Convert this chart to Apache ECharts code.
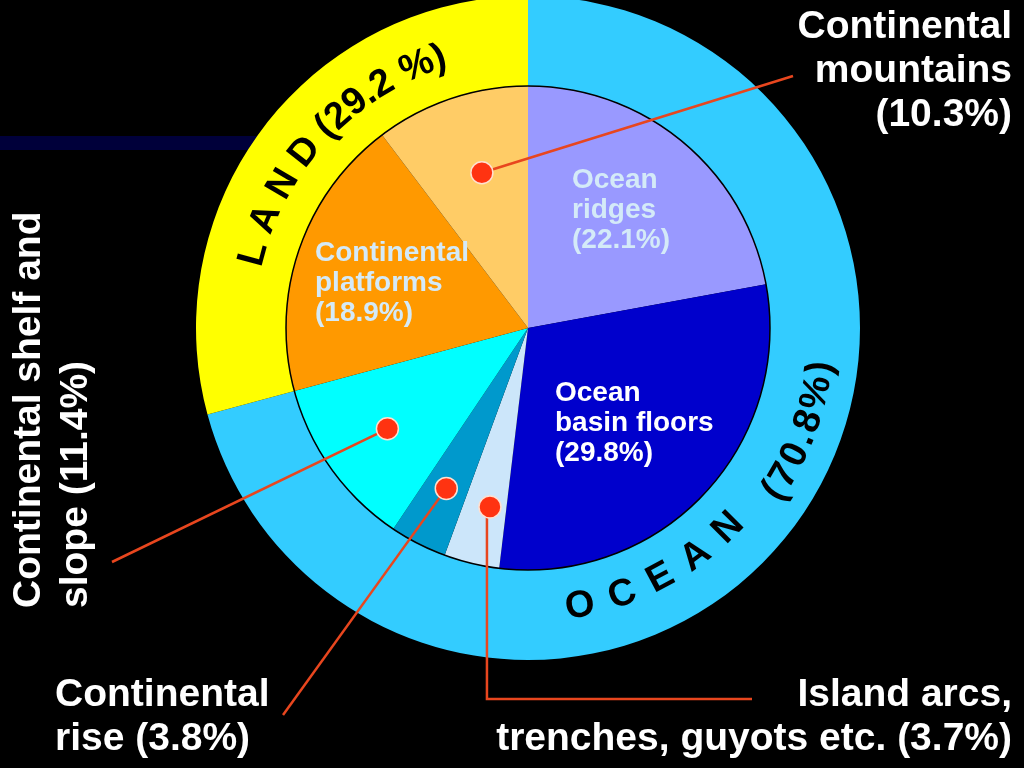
<!DOCTYPE html>
<html><head><meta charset="utf-8">
<style>html,body{margin:0;padding:0;background:#000;}#chart{width:1024px;height:768px;}</style>
<script src="https://cdn.jsdelivr.net/npm/echarts@6/dist/echarts.min.js"></script>
</head><body><div id="chart"></div>
<script>
// ---------- DATA ----------
const categories = ['Ocean\nridges', 'Ocean\nbasin floors', 'Island arcs,\ntrenches, guyots etc.', 'Continental\nrise', 'Continental shelf and\nslope', 'Continental\nplatforms', 'Continental\nmountains'];
const values = [22.1, 29.8, 3.7, 3.8, 11.4, 18.9, 10.3];
const ringCategories = ['OCEAN', 'LAND'];
const ringValues = [70.8, 29.2];

// ---------- STYLE / LAYOUT ----------
const FONT = '"Liberation Sans", Arial, Helvetica, sans-serif';
const CX = 528, CY = 328, R_IN = 242, R_OUT = 332;
const sliceColors = ['#9999FF', '#0000CC', '#CCE6FA', '#0099CC', '#00FFFF', '#FF9900', '#FFCC66'];
const ringColors = ['#33CCFF', '#FFFF00'];
const LINE_COLOR = '#E8461E';

const innerLabels = {
  0: { x: 572, y: 165, color: '#D4EAF8', sep: '\n' },
  1: { x: 555, y: 378, color: '#FFFFFF', sep: '\n' },
  5: { x: 315, y: 238, color: '#D4EAF8', sep: '\n' }
};
const outerLabels = {
  6: { x: 1012, y: 5, align: 'right', sep: '\n', end: [793, 76], dotR: 162, dA: -2 },
  4: { x: 6, y: 608, align: 'left', sep: ' ', rot: Math.PI / 2, end: [112, 562], dotR: 173, dA: 0 },
  3: { x: 55, y: 673, align: 'left', sep: ' ', end: [283, 715], dotR: 180, dA: 0 },
  2: { x: 1012, y: 673, align: 'right', sep: ' ', elbowY: 699, end: [752, 699], dotR: 183, dA: 1.5 }
};

const total = values.reduce((a, b) => a + b, 0);
const mids = [];
let acc = 0;
values.forEach(v => { mids.push(90 - (acc + v / 2) / total * 360); acc += v; });
const labelText = (i, sep) => categories[i] + sep + '(' + values[i] + '%)';
const polar = (r, deg) => [CX + r * Math.cos(deg * Math.PI / 180), CY - r * Math.sin(deg * Math.PI / 180)];

const graphics = [];
// dark bar at top-left (behind the pie)
graphics.push({ type: 'rect', z: 0, shape: { x: 0, y: 136, width: 300, height: 14 }, style: { fill: '#00003A' } });

// black circle around the inner pie
graphics.push({ type: 'circle', z: 5, shape: { cx: CX, cy: CY, r: R_IN }, style: { fill: 'none', stroke: '#000', lineWidth: 1.5 } });

// inner labels
Object.keys(innerLabels).forEach(k => {
  const L = innerLabels[k];
  graphics.push({ type: 'text', z: 6, x: L.x, y: L.y, style: {
    text: labelText(+k, L.sep), fill: L.color, font: 'bold 28px ' + FONT, lineHeight: 30, align: 'left', verticalAlign: 'top' } });
});

// outer labels with lines and dots
Object.keys(outerLabels).forEach(k => {
  const i = +k, L = outerLabels[k];
  const dot = polar(L.dotR, mids[i] + L.dA);
  const pts = [dot];
  if (L.elbowY != null) pts.push([dot[0] - 3, L.elbowY]);
  pts.push(L.end);
  if (L.elbowY != null) pts[0] = [dot[0] - 3, dot[1]];
  graphics.push({ type: 'polyline', z: 7, shape: { points: pts }, style: { stroke: LINE_COLOR, lineWidth: 2.5, fill: 'none' } });
  graphics.push({ type: 'circle', z: 8, shape: { cx: dot[0], cy: dot[1], r: 11 }, style: { fill: '#FF3311', stroke: '#FFE0D0', lineWidth: 1.5 } });
  graphics.push({ type: 'text', z: 8, x: L.x, y: L.y, rotation: L.rot || 0, style: {
    text: labelText(i, L.sep), fill: '#FFFFFF', font: 'bold 39px ' + FONT, lineHeight: L.rot ? 47 : 44,
    align: L.align, verticalAlign: 'top' } });
});

// curved ring text
const mctx = document.createElement('canvas').getContext('2d');
function arcText(str, r, firstCenterDeg, dir, size, spacing) {
  const font = 'bold ' + size + 'px ' + FONT;
  mctx.font = font;
  const chars = str.split('');
  const widths = chars.map(c => mctx.measureText(c).width);
  let dist = 0;
  chars.forEach((c, j) => {
    if (j > 0) dist += widths[j - 1] / 2 + spacing + widths[j] / 2;
    const th = firstCenterDeg + dir * (dist / r) * 180 / Math.PI;
    const p = polar(r, th);
    if (c === ' ') return;
    const rot = (th + (dir < 0 ? -90 : 90)) * Math.PI / 180;
    graphics.push({ type: 'text', z: 6, x: p[0], y: p[1], rotation: rot, style: {
      text: c, fill: '#000', font: font, align: 'center', verticalAlign: 'middle' } });
  });
}
const landText = ringCategories[1].split('').join(' ') + ' (' + ringValues[1] + ' %)';
arcText(landText, 284, 164.9, -1, 38, 0.5);
arcText(ringCategories[0].split('').join(' '), 283, -79.4, 1, 38, 2.4);
arcText('(' + ringValues[0] + '%)', 296, -33.6, 1, 38, 2.2);

const chart = echarts.init(document.getElementById('chart'));
chart.setOption({
  backgroundColor: '#000',
  animation: false,
  series: [
    {
      type: 'pie', z: 2, silent: true, center: [CX, CY], radius: [R_IN, R_OUT], startAngle: 90, clockwise: true,
      label: { show: false }, labelLine: { show: false }, emphasis: { disabled: true },
      itemStyle: { borderWidth: 0 },
      data: ringCategories.map((c, i) => ({ name: c, value: ringValues[i], itemStyle: { color: ringColors[i] } }))
    },
    {
      type: 'pie', z: 2, silent: true, center: [CX, CY], radius: [0, R_IN], startAngle: 90, clockwise: true,
      label: { show: false }, labelLine: { show: false }, emphasis: { disabled: true },
      itemStyle: { borderWidth: 0 },
      data: categories.map((c, i) => ({ name: c.replace('\n', ' '), value: values[i], itemStyle: { color: sliceColors[i] } }))
    }
  ],
  graphic: { elements: graphics }
});
</script></body></html>
